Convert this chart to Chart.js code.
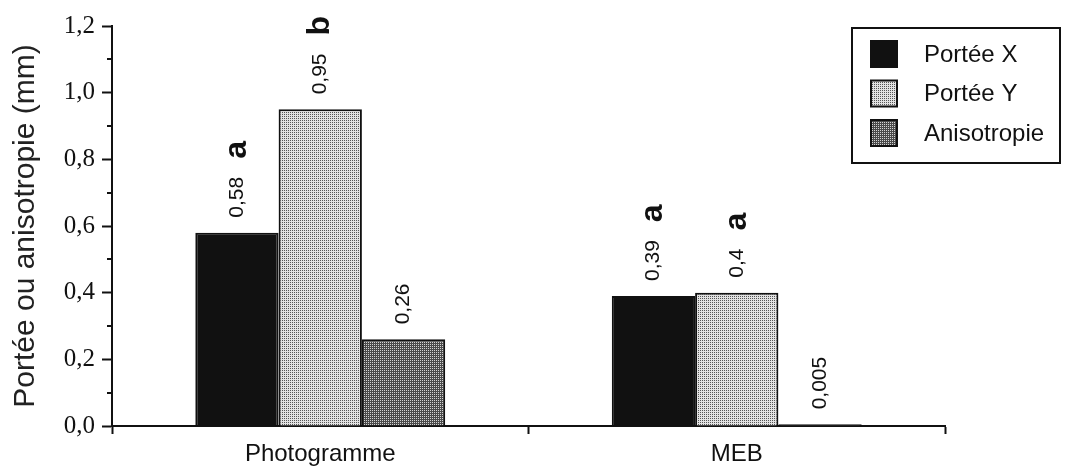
<!DOCTYPE html>
<html>
<head>
<meta charset="utf-8">
<script src="https://cdn.jsdelivr.net/npm/chart.js@4/dist/chart.umd.min.js"></script>
<style>
  html, body { margin: 0; padding: 0; background: #fff; }
  #wrap { width: 1068px; height: 471px; }
</style>
</head>
<body>
<div id="wrap"><canvas id="c" width="1068" height="471"></canvas></div>
<script>
// data
const categories = ['Photogramme', 'MEB'];
const seriesNames = ['Portée X', 'Portée Y', 'Anisotropie'];
const porteeX = [0.58, 0.39];
const porteeY = [0.95, 0.4];
const anisotropie = [0.26, 0.005];
const letters = [['a', 'a'], ['b', 'a'], ['', '']];
const yTicks = [0, 0.2, 0.4, 0.6, 0.8, 1.0, 1.2];
const yMinorTicks = [0.1, 0.3, 0.5, 0.7, 0.9, 1.1];

// 2x2 dot screen, like the old bitmap fills
function stipple(bg, dot) {
  const c = document.createElement('canvas');
  c.width = 2; c.height = 2;
  const g = c.getContext('2d');
  g.fillStyle = bg; g.fillRect(0, 0, 2, 2);
  g.fillStyle = dot; g.fillRect(0, 0, 1, 1);
  return g.createPattern(c, 'repeat');
}

const fills = ['#111', stipple('#e2e2e2', '#555'), stipple('#4a4a4a', '#d4d4d4')];
const comma = v => String(v).replace('.', ',');

const barLabels = {
  id: 'barLabels',
  afterDatasetsDraw(chart) {
    const ctx = chart.ctx;
    chart.data.datasets.forEach((ds, i) => {
      chart.getDatasetMeta(i).data.forEach((el, j) => {
        const txt = comma(ds.data[j]);
        ctx.save();
        ctx.translate(el.x, el.y - 15);
        ctx.rotate(-Math.PI / 2);
        ctx.fillStyle = '#111';
        ctx.textAlign = 'left';
        ctx.textBaseline = 'middle';
        ctx.font = '21px "Liberation Sans", Arial, sans-serif';
        ctx.fillText(txt, 0, 0);
        const w = ctx.measureText(txt).width;
        const l = letters[i][j];
        if (l) {
          ctx.font = 'bold 32px "Liberation Sans", Arial, sans-serif';
          ctx.fillText(l, w + 18, 0);
        }
        ctx.restore();
      });
    });
  }
};

const minorTicks = {
  id: 'minorTicks',
  afterDraw(chart) {
    const ctx = chart.ctx, y = chart.scales.y, left = chart.chartArea.left;
    ctx.save();
    ctx.strokeStyle = '#111';
    ctx.lineWidth = 2;
    yMinorTicks.forEach(v => {
      const py = Math.round(y.getPixelForValue(v));
      ctx.beginPath();
      ctx.moveTo(left - 5, py);
      ctx.lineTo(left, py);
      ctx.stroke();
    });
    ctx.restore();
  }
};

const boxLegend = {
  id: 'boxLegend',
  afterDraw(chart) {
    const ctx = chart.ctx;
    ctx.save();
    ctx.fillStyle = '#fff';
    ctx.fillRect(852, 28, 208, 135);
    ctx.strokeStyle = '#111';
    ctx.lineWidth = 2;
    ctx.strokeRect(852, 28, 208, 135);
    chart.data.datasets.forEach((ds, i) => {
      const cy = 54 + i * 39.5;
      ctx.fillStyle = ds.backgroundColor;
      ctx.fillRect(871, cy - 13, 26, 26);
      ctx.lineWidth = 2;
      ctx.strokeRect(871, cy - 13, 26, 26);
      ctx.fillStyle = '#111';
      ctx.font = '24px "Liberation Sans", Arial, sans-serif';
      ctx.textBaseline = 'middle';
      ctx.textAlign = 'left';
      ctx.fillText(ds.label, 924, cy + 1);
    });
    ctx.restore();
  }
};

const seriesValues = [porteeX, porteeY, anisotropie];

new Chart(document.getElementById('c'), {
  type: 'bar',
  data: {
    labels: categories,
    datasets: seriesNames.map((name, i) => ({
      label: name,
      data: seriesValues[i],
      backgroundColor: fills[i],
      borderColor: '#111',
      borderWidth: 2,
      categoryPercentage: 0.6,
      barPercentage: 1.0
    }))
  },
  options: {
    responsive: false,
    animation: false,
    layout: { padding: { top: 26, right: 123, bottom: 0, left: 0 } },
    plugins: {
      legend: { display: false },
      tooltip: { enabled: false }
    },
    scales: {
      x: {
        grid: { display: true, offset: true, drawOnChartArea: false, drawTicks: true,
                tickLength: 8, tickWidth: 2, tickColor: '#111' },
        border: { display: true, color: '#111', width: 2 },
        ticks: { color: '#111', padding: 6,
                 font: { family: '"Liberation Sans", Arial, sans-serif', size: 24 } },
        afterFit: s => { s.height = 45; }
      },
      y: {
        min: 0,
        max: 1.2,
        afterBuildTicks: s => { s.ticks = yTicks.map(v => ({ value: v })); },
        ticks: { color: '#111', padding: 7,
                 callback: v => Number(v).toFixed(1).replace('.', ','),
                 font: { family: '"Liberation Serif", "Times New Roman", serif', size: 25 } },
        grid: { display: true, drawOnChartArea: false, drawTicks: true,
                tickLength: 10, tickWidth: 2, tickColor: '#111' },
        border: { display: true, color: '#111', width: 2 },
        title: { display: true, text: 'Portée ou anisotropie (mm)', color: '#222',
                 padding: { top: 8, bottom: 0 },
                 font: { family: '"Liberation Sans", Arial, sans-serif', size: 30, weight: 'normal' } },
        afterFit: s => { s.width = 112; }
      }
    }
  },
  plugins: [barLabels, minorTicks, boxLegend]
});
</script>
</body>
</html>
